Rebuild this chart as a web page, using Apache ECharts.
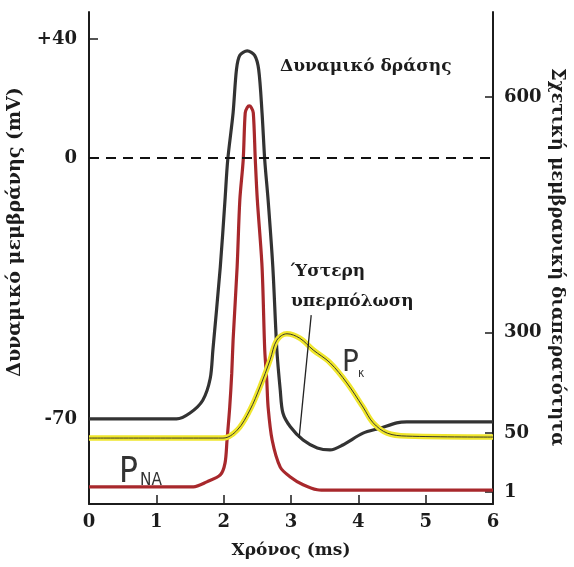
<!DOCTYPE html>
<html>
<head>
<meta charset="utf-8">
<script src="https://cdn.jsdelivr.net/npm/echarts@6/dist/echarts.min.js"></script>
<style>html,body{margin:0;padding:0;background:#fff}#c{width:574px;height:567px}</style>
</head>
<body>
<div id="c"></div>
<script>
// X axis (time, ms)
const X_MIN = 0, X_MAX = 6;
// The figure's vertical scales are schematic (non-linear), so curves are stored in plot-height units (0-100)
const leftTickPos = [94.5, 70.3, 17.3];
const leftTickText = ['+40', '0', '-70'];
const rightTickPos = [82.7, 34.8, 14.4, 2.4];
const rightTickText = ['600', '300', '50', '1'];
const zeroLevel = 70.3; // 0 mV dashed line

// Action potential (black)
const apTime  = [0, 1.0, 1.30, 1.50, 1.69, 1.80, 1.84, 1.95, 2.02, 2.06, 2.14, 2.19, 2.24, 2.35, 2.46, 2.52, 2.57, 2.61, 2.66, 2.73, 2.79, 2.84, 2.88, 2.99, 3.18, 3.39, 3.58, 3.77, 4.07, 4.32, 4.57, 4.72, 6.0];
const apLevel = [17.3, 17.3, 17.3, 18.5, 21.1, 25.5, 31.3, 48.2, 61.8, 69.9, 79.5, 88.3, 91.2, 92.1, 91.2, 88.3, 79.5, 69.9, 61.8, 48.2, 31.3, 23.2, 18.5, 15.7, 13.0, 11.4, 11.0, 12.0, 14.4, 15.4, 16.5, 16.7, 16.7];
// Na permeability (red)
const naTime  = [0, 1.55, 1.75, 1.95, 2.02, 2.05, 2.09, 2.12, 2.14, 2.20, 2.24, 2.29, 2.32, 2.35, 2.38, 2.41, 2.44, 2.47, 2.50, 2.57, 2.61, 2.64, 2.66, 2.72, 2.84, 2.99, 3.18, 3.39, 3.55, 6.0];
const naLevel = [3.5, 3.5, 4.5, 5.9, 8.3, 13.0, 19.7, 26.6, 33.3, 48.2, 61.8, 69.9, 79.5, 80.6, 80.9, 80.6, 79.5, 69.9, 61.8, 48.2, 31.3, 25.2, 19.7, 13.0, 7.5, 5.5, 3.9, 2.9, 2.8, 2.8];
// K permeability (yellow)
const kTime  = [0, 1.99, 2.20, 2.39, 2.54, 2.69, 2.79, 2.94, 3.13, 3.33, 3.58, 3.83, 4.07, 4.22, 4.43, 4.72, 6.0];
const kLevel = [13.4, 13.4, 15.0, 19.1, 23.8, 29.3, 33.3, 34.6, 33.7, 31.3, 28.7, 24.6, 19.7, 16.5, 14.4, 13.8, 13.6];
// Annotation pointer for "Ύστερη υπερπόλωση"
const pointerTime  = [3.30, 3.12];
const pointerLevel = [38.4, 13.4];

const pairs = (xs, ys) => xs.map((x, i) => [x, ys[i]]);
const SERIF = "'DejaVu Serif', serif";
const NARROW = "'Liberation Sans Narrow', 'DejaVu Sans Condensed', sans-serif";
const INK = '#1c1c1c';

const chart = echarts.init(document.getElementById('c'), null, {renderer: 'canvas'});
const labelFrom = (pos, txt) => v => {
  for (let i = 0; i < pos.length; i++) if (Math.abs(pos[i] - v) < 1e-6) return txt[i];
  return '';
};
chart.setOption({
  animation: false,
  backgroundColor: '#fff',
  grid: {left: 89, right: 81, top: 12, bottom: 63},
  xAxis: {
    type: 'value', min: X_MIN, max: X_MAX, interval: 1,
    name: 'Χρόνος (ms)', nameLocation: 'middle', nameGap: 38,
    nameTextStyle: {fontFamily: SERIF, fontSize: 17, fontWeight: 'bold', color: INK},
    axisLine: {lineStyle: {color: INK, width: 2}},
    axisTick: {inside: true, length: 9, lineStyle: {color: INK, width: 1.5}},
    axisLabel: {fontFamily: SERIF, fontSize: 18, fontWeight: 'bold', color: INK, margin: 9},
    splitLine: {show: false}
  },
  yAxis: [{
    type: 'value', min: 0, max: 100, position: 'left',
    axisLine: {show: true, lineStyle: {color: INK, width: 2}},
    axisTick: {show: true, inside: true, length: 9, customValues: leftTickPos, lineStyle: {color: INK, width: 1.5}},
    axisLabel: {customValues: leftTickPos, formatter: labelFrom(leftTickPos, leftTickText),
      fontFamily: SERIF, fontSize: 18, fontWeight: 'bold', color: INK, margin: 12},
    splitLine: {show: false}
  }, {
    type: 'value', min: 0, max: 100, position: 'right',
    axisLine: {show: true, lineStyle: {color: INK, width: 2}},
    axisTick: {show: true, inside: true, length: 8, customValues: rightTickPos, lineStyle: {color: INK, width: 1.5}},
    axisLabel: {customValues: rightTickPos, formatter: labelFrom(rightTickPos, rightTickText),
      fontFamily: SERIF, fontSize: 18, fontWeight: 'bold', color: INK, margin: 11},
    splitLine: {show: false}
  }],
  series: [
    {
      name: 'Δυναμικό δράσης', type: 'line', yAxisIndex: 0, data: pairs(apTime, apLevel),
      showSymbol: false, smooth: 0.3,
      lineStyle: {color: '#333333', width: 3.2}, z: 3,
      markLine: {silent: true, symbol: 'none', label: {show: false},
        lineStyle: {color: '#111', width: 1.8, type: [10, 7]},
        data: [{yAxis: zeroLevel}]}
    },
    {
      name: 'P_NA', type: 'line', yAxisIndex: 1, data: pairs(naTime, naLevel),
      showSymbol: false, smooth: 0.3,
      lineStyle: {color: '#a8282c', width: 3.2}, z: 4
    },
    {
      name: 'P_K', type: 'line', yAxisIndex: 1, data: pairs(kTime, kLevel),
      showSymbol: false, smooth: 0.35,
      lineStyle: {color: '#f0e62c', width: 5.5}, z: 5
    },
    {
      name: 'P_K outline', type: 'line', yAxisIndex: 1, data: pairs(kTime, kLevel),
      showSymbol: false, smooth: 0.35,
      lineStyle: {color: '#3a3a2a', width: 1}, z: 6
    },
    {
      name: 'pointer', type: 'line', yAxisIndex: 0, data: pairs(pointerTime, pointerLevel),
      showSymbol: false, lineStyle: {color: '#222', width: 1.3}, z: 7
    }
  ],
  graphic: [
    {type: 'text', x: 15, y: 232, rotation: Math.PI / 2,
      style: {text: 'Δυναμικό μεμβράνης (mV)', fontFamily: SERIF, fontSize: 19, fontWeight: 'bold', fill: INK, align: 'center', verticalAlign: 'middle'}},
    {type: 'text', x: 557, y: 257, rotation: -Math.PI / 2,
      style: {text: 'Σχετική μεμβρανική διαπερατότητα', fontFamily: SERIF, fontSize: 18, fontWeight: 'bold', fill: INK, align: 'center', verticalAlign: 'middle'}},
    {type: 'text', x: 280, y: 67,
      style: {text: 'Δυναμικό δράσης', fontFamily: SERIF, fontSize: 17, fontWeight: 'bold', fill: INK, align: 'left', verticalAlign: 'middle'}},
    {type: 'text', x: 291, y: 272,
      style: {text: 'Ύστερη', fontFamily: SERIF, fontSize: 17, fontWeight: 'bold', fill: INK, align: 'left', verticalAlign: 'middle'}},
    {type: 'text', x: 291, y: 302,
      style: {text: 'υπερπόλωση', fontFamily: SERIF, fontSize: 17, fontWeight: 'bold', fill: INK, align: 'left', verticalAlign: 'middle'}},
    {type: 'text', x: 342, y: 378,
      style: {text: 'P', fontFamily: NARROW, fontSize: 31, fill: '#333', align: 'left', verticalAlign: 'bottom'}},
    {type: 'text', x: 358, y: 380,
      style: {text: 'κ', fontFamily: NARROW, fontSize: 12, fill: '#333', align: 'left', verticalAlign: 'bottom'}},
    {type: 'text', x: 119, y: 490,
      style: {text: 'P', fontFamily: NARROW, fontSize: 35, fill: '#333', align: 'left', verticalAlign: 'bottom'}},
    {type: 'text', x: 140, y: 489,
      style: {text: 'NA', fontFamily: NARROW, fontSize: 17, fill: '#333', align: 'left', verticalAlign: 'bottom'}}
  ]
});
</script>
</body>
</html>
